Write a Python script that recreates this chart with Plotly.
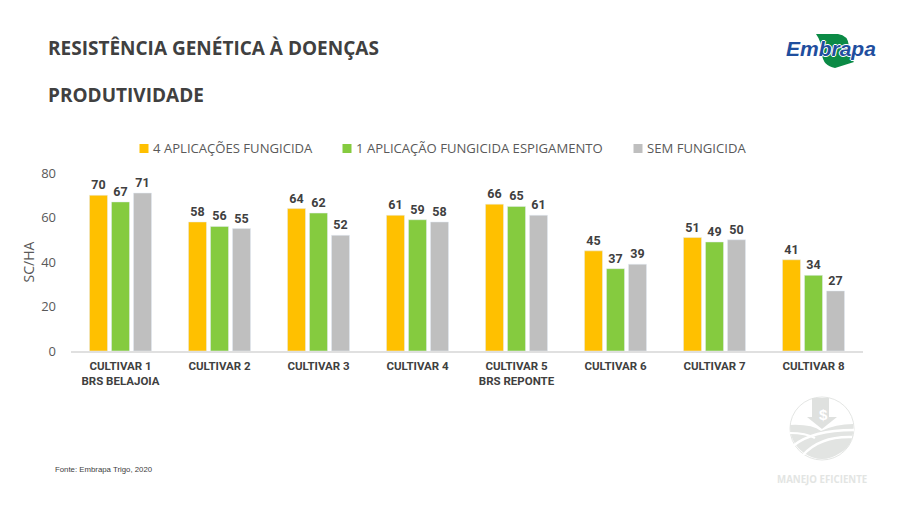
import plotly.graph_objects as go

W, H = 900, 506
# the page body has an 8px margin, so page pixels are shifted by this much
OFFSET = 8

cultivares = ["CULTIVAR 1<br>BRS BELAJOIA", "CULTIVAR 2", "CULTIVAR 3", "CULTIVAR 4",
              "CULTIVAR 5<br>BRS REPONTE", "CULTIVAR 6", "CULTIVAR 7", "CULTIVAR 8"]
quatro_aplic = [70, 58, 64, 61, 66, 45, 51, 41]
uma_aplic = [67, 56, 62, 59, 65, 37, 49, 34]
sem_fungicida = [71, 55, 52, 58, 61, 39, 50, 27]

nomes = ["4 APLICAÇÕES FUNGICIDA", "1 APLICAÇÃO FUNGICIDA ESPIGAMENTO", "SEM FUNGICIDA"]
cores = ["#FFC000", "#85CB3F", "#BFBFBF"]
series = [quatro_aplic, uma_aplic, sem_fungicida]

ESTREITA = "Roboto, Liberation Sans, sans-serif"
CORPO = "Open Sans, sans-serif"
ARIAL = "Liberation Sans, sans-serif"


def px(x):
    return (x - OFFSET) / W


def py(y):
    return 1 - (y - OFFSET) / H


def caminho(pontos):
    # path in pixels of the page -> paper coords
    saida = []
    for p in pontos:
        if isinstance(p, str):
            saida.append(p)
        else:
            saida.append(f"{px(p[0]):.5f},{py(p[1]):.5f}")
    return " ".join(saida)


def forma(pontos, cor):
    return dict(type="path", xref="paper", yref="paper", path=caminho(pontos),
                fillcolor=cor, line=dict(width=0), layer="below")


def faixa(pontos, larg=2.2):
    return dict(type="path", xref="paper", yref="paper", path=caminho(pontos),
                line=dict(color="white", width=larg), layer="below")


fig = go.Figure()
for nome, cor, vals in zip(nomes, cores, series):
    fig.add_trace(go.Bar(x=cultivares, y=vals, name=nome, marker_color=cor,
                         text=vals, textposition="outside", cliponaxis=False,
                         textfont=dict(family=ESTREITA, size=12.5, color="#404040", weight="bold")))

formas = [
    # logo Embrapa
    forma(["M", (816, 34), "L", (838, 34), "Q", (848, 35), (849, 46), "Q", (849, 58), (854, 62),
           "L", (835, 68), "Q", (823, 66), (822, 54), "Q", (822, 42), (816, 34), "Z"], "#0B8A45"),
    # Manejo eficiente
    dict(type="circle", xref="paper", yref="paper", x0=px(790), x1=px(854), y0=py(397), y1=py(460),
         line=dict(color="#E4E6E4", width=1), fillcolor="white", layer="below"),
    forma(["M", (790, 425), "Q", (812, 424), (821, 431), "Q", (836, 424), (853, 424),
           "Q", (855, 445), (840, 453), "Q", (822, 465), (804, 453), "Q", (790, 443), (790, 425), "Z"], "#E2E4E2"),
    faixa(["M", (790, 433), "Q", (806, 433), (815, 438)]),
    faixa(["M", (793, 446), "Q", (812, 430), (854, 430)], 2.5),
    faixa(["M", (803, 455), "Q", (820, 436), (852, 437)], 2.5),
    forma(["M", (812, 398), "L", (829, 398), "L", (829, 417), "L", (837, 417), "L", (822, 429),
           "L", (807, 417), "L", (812, 417), "Z"], "#DFE1DF"),
]

textos = [
    dict(text="<b>RESISTÊNCIA GENÉTICA À DOENÇAS</b>", x=px(46), y=py(48), font=dict(size=19, color="#404040", family=CORPO)),
    dict(text="<b>PRODUTIVIDADE</b>", x=px(46), y=py(95), font=dict(size=19, color="#404040", family=CORPO)),
    dict(text="Fonte: Embrapa Trigo, 2020", x=px(53), y=py(469), font=dict(size=7.8, color="#404040", family=ARIAL)),
    dict(text="<b><i>Embrapa</i></b>", x=px(784), y=py(49),
         font=dict(size=21, color="#1F4E9E", family=ARIAL,
                   shadow="-1px 0 white, 1px 0 white, 0 -1px white, 0 1px white")),
    dict(text="<b>$</b>", x=px(817), y=py(414), font=dict(size=15, color="white", family=ARIAL)),
    dict(text="<b>MANEJO EFICIENTE</b>", x=px(775), y=py(479), font=dict(size=9.7, color="#E3E5E3", family=CORPO)),
]

# legend drawn by hand, plotly's swatch-to-text gap is too wide for this one
legenda_x = [139.5, 342.5, 633.5]
for nome, cor, lx in zip(nomes, cores, legenda_x):
    formas.append(dict(type="rect", xref="paper", yref="paper", x0=px(lx), x1=px(lx + 9),
                       y0=py(153), y1=py(144), fillcolor=cor, line=dict(width=0)))
    textos.append(dict(text=nome, x=px(lx + 11.5), y=py(148),
                       font=dict(family=CORPO, size=13.1, color="#595959")))

anotacoes = [dict(t, xref="paper", yref="paper", xanchor="left", yanchor="middle", showarrow=False) for t in textos]

fig.update_layout(
    width=W, height=H,
    margin=dict(l=0, r=0, t=0, b=0),
    paper_bgcolor="white", plot_bgcolor="white",
    barmode="group", bargap=0.333, bargroupgap=0.18,
    showlegend=False,
    shapes=formas,
    annotations=anotacoes,
    xaxis=dict(domain=[px(71), px(863)], showgrid=False, ticks="", showline=True, linecolor="#E0E0E0",
               linewidth=1.5, ticklabelstandoff=3,
               tickfont=dict(family=ESTREITA, size=11.5, color="#404040", weight="bold"),
               automargin=False),
    yaxis=dict(domain=[py(351), py(173)], range=[0, 80], dtick=20, showgrid=False, zeroline=False,
               ticks="", ticklabelstandoff=14, tickfont=dict(family=CORPO, size=13, color="#595959"),
               title=dict(text="SC/HA", font=dict(family=CORPO, size=14, color="#595959"), standoff=3),
               automargin=False),
)

fig.write_html("out.html")
